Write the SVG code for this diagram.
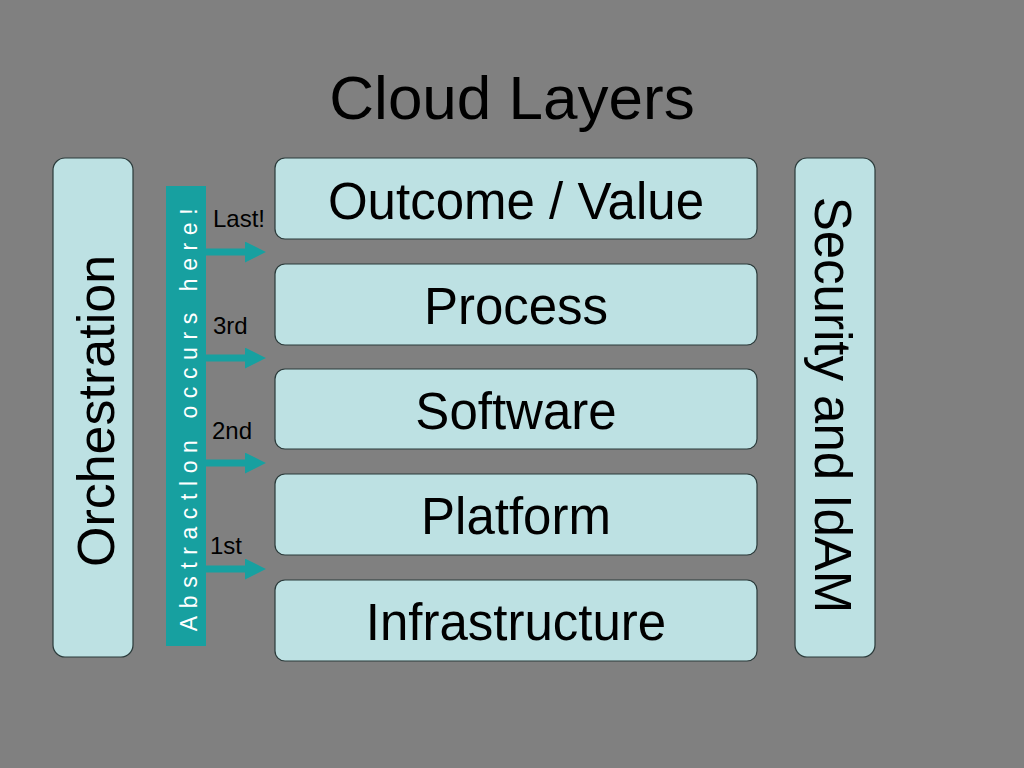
<svg xmlns="http://www.w3.org/2000/svg" width="1024" height="768" viewBox="0 0 1024 768">
<style>
.box{fill:#bde1e3;stroke:#2a3a3a;stroke-width:1.2}
.t{font-family:"Liberation Sans",Arial,sans-serif;fill:#000}
.big{font-size:51px;text-anchor:middle}
.lbl{font-size:24px}
.arr{stroke:#17a0a0;stroke-width:7;fill:none}
</style>
<defs>
<marker id="ah" viewBox="0 0 10 10" refX="0.5" refY="5" markerWidth="3" markerHeight="3" markerUnits="strokeWidth" orient="auto">
<path d="M0,0 L10,5 L0,10 Z" fill="#17a0a0"/>
</marker>
</defs>
<rect width="1024" height="768" fill="#808080"/>
<text class="t" x="512" y="119" font-size="62" text-anchor="middle">Cloud Layers</text>
<g id="orchestration">
<rect class="box" x="53" y="158" width="80" height="499" rx="12"/>
<text class="t big" transform="translate(114,411) rotate(-90)" style="font-size:52px">Orchestration</text>
</g>
<g id="abstraction">
<rect x="166" y="186" width="40" height="460" fill="#17a0a0"/>
<text class="t" transform="translate(197,416) rotate(-90)" font-size="23" style="fill:#fff" text-anchor="middle" letter-spacing="7.6">Abstractlon occurs here!</text>
</g>
<g id="connectors">
<line class="arr" x1="206" y1="252" x2="246" y2="252" marker-end="url(#ah)"/>
<line class="arr" x1="206" y1="358" x2="246" y2="358" marker-end="url(#ah)"/>
<line class="arr" x1="206" y1="463" x2="246" y2="463" marker-end="url(#ah)"/>
<line class="arr" x1="206" y1="569" x2="246" y2="569" marker-end="url(#ah)"/>
</g>
<g id="labels">
<text class="t lbl" x="213" y="227">Last!</text>
<text class="t lbl" x="213" y="334">3rd</text>
<text class="t lbl" x="212" y="439">2nd</text>
<text class="t lbl" x="210" y="554">1st</text>
</g>
<g id="outcome">
<rect class="box" x="275" y="158" width="482" height="81" rx="10"/>
<text class="t big" x="516" y="219">Outcome / Value</text>
</g>
<g id="process">
<rect class="box" x="275" y="264" width="482" height="81" rx="10"/>
<text class="t big" x="516" y="324">Process</text>
</g>
<g id="software">
<rect class="box" x="275" y="369" width="482" height="80" rx="10"/>
<text class="t big" x="516" y="429">Software</text>
</g>
<g id="platform">
<rect class="box" x="275" y="474" width="482" height="81" rx="10"/>
<text class="t big" x="516" y="534">Platform</text>
</g>
<g id="infrastructure">
<rect class="box" x="275" y="580" width="482" height="81" rx="10"/>
<text class="t big" x="516" y="640">Infrastructure</text>
</g>
<g id="security">
<rect class="box" x="795" y="158" width="80" height="499" rx="12"/>
<text class="t big" transform="translate(815,405) rotate(90)">Security and IdAM</text>
</g>
</svg>
